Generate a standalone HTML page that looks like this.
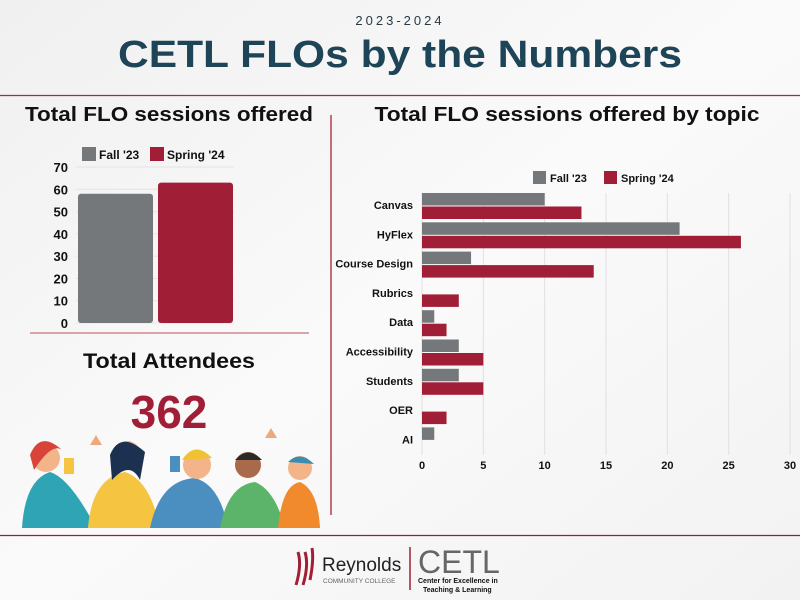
<!DOCTYPE html>
<html><head><meta charset="utf-8">
<style>
body{margin:0;width:800px;height:600px;overflow:hidden;background:#f4f4f4;font-family:"Liberation Sans",sans-serif;}
svg{display:block}
</style></head>
<body>
<svg width="800" height="600" viewBox="0 0 800 600">
<defs><linearGradient id="bg" x1="0" y1="0" x2="1" y2="1"><stop offset="0" stop-color="#f0f0f0"/><stop offset="0.5" stop-color="#fafafa"/><stop offset="1" stop-color="#f2f2f2"/></linearGradient></defs>
<rect width="800" height="600" fill="url(#bg)"/>
<text x="400" y="25" text-anchor="middle" font-size="13" letter-spacing="3" fill="#2a3a44">2023-2024</text>
<text x="400" y="67" text-anchor="middle" font-size="38" font-weight="bold" fill="#1e4457" textLength="564" lengthAdjust="spacingAndGlyphs">CETL FLOs by the Numbers</text>
<line x1="0" y1="95.5" x2="800" y2="95.5" stroke="#9a3040" stroke-width="1.2"/>
<text x="169" y="121" text-anchor="middle" font-size="20" font-weight="bold" fill="#111" textLength="288" lengthAdjust="spacingAndGlyphs">Total FLO sessions offered</text>
<text x="567" y="121" text-anchor="middle" font-size="20" font-weight="bold" fill="#111" textLength="385" lengthAdjust="spacingAndGlyphs">Total FLO sessions offered by topic</text>
<line x1="331" y1="115" x2="331" y2="515" stroke="#b04050" stroke-width="1.5"/>
<line x1="30" y1="333" x2="309" y2="333" stroke="#d08890" stroke-width="1.5"/>
<g id="left"></g>
<g id="right"></g>
<text x="169" y="368" text-anchor="middle" font-size="21" font-weight="bold" fill="#111" textLength="172" lengthAdjust="spacingAndGlyphs">Total Attendees</text>
<text x="169" y="428" text-anchor="middle" font-size="46" font-weight="bold" fill="#a11f36">362</text>
<g>
<path d="M22 528 Q25 480 50 472 Q70 478 96 528Z" fill="#2fa4b4"/>
<circle cx="46" cy="458" r="14" fill="#f3b48a"/><path d="M30 455 Q40 430 62 450 Q52 442 34 470Z" fill="#d8433a"/>
<path d="M88 528 Q92 478 125 472 Q150 480 160 528Z" fill="#f5c542"/>
<circle cx="127" cy="455" r="14" fill="#f0a77e"/><path d="M110 455 Q120 430 145 452 L140 480 Q130 460 112 480Z" fill="#1c3150"/>
<path d="M150 528 Q160 480 195 478 Q220 485 228 528Z" fill="#4a8fc0"/>
<circle cx="197" cy="465" r="14" fill="#f3b48a"/><path d="M182 460 Q195 440 212 458 Z" fill="#f0c232"/>
<path d="M220 528 Q228 485 255 482 Q275 490 285 528Z" fill="#5cb46a"/>
<circle cx="248" cy="465" r="13" fill="#a86a4a"/><path d="M235 460 Q248 445 262 460Z" fill="#2a2a2a"/>
<path d="M278 528 Q282 485 300 482 Q318 490 320 528Z" fill="#f08a2c"/>
<circle cx="300" cy="468" r="12" fill="#f3b48a"/><path d="M288 462 Q300 450 314 464Z" fill="#3a8cb0"/>
<rect x="64" y="458" width="10" height="16" fill="#f5c542"/><rect x="170" y="456" width="10" height="16" fill="#4a8fc0"/>
<path d="M90 445 l6 -10 l6 10Z" fill="#f0a77e"/><path d="M265 438 l6 -10 l6 10Z" fill="#f0a77e"/>
</g>
<line x1="0" y1="535.5" x2="800" y2="535.5" stroke="#8a2535" stroke-width="1.2"/>
<g>
<path d="M296 585 Q302 565 298 552 M303 585 Q309 565 305 552 M310 580 Q314 560 312 548" stroke="#a11f36" stroke-width="3" fill="none"/>
<text x="322" y="571" font-size="19" fill="#222">Reynolds</text>
<text x="323" y="583" font-size="6.5" fill="#666">COMMUNITY COLLEGE</text>
<line x1="410" y1="547" x2="410" y2="590" stroke="#a11f36" stroke-width="1.5"/>
<text x="418" y="573" font-size="32" fill="#666">CETL</text>
<text x="418" y="583" font-size="7" font-weight="bold" fill="#111">Center for Excellence in</text>
<text x="423" y="592" font-size="7" font-weight="bold" fill="#111">Teaching &amp; Learning</text>
</g>
</svg>
<script>
const NS="http://www.w3.org/2000/svg";
const totalSeries=["Fall '23","Spring '24"];
const totalValues=[58,63];
const totalTicks=[0,10,20,30,40,50,60,70];
const topicCats=["Canvas","HyFlex","Course Design","Rubrics","Data","Accessibility","Students","OER","AI"];
const fallValues=[10,21,4,0,1,3,3,0,1];
const springValues=[13,26,14,3,2,5,5,2,0];
const topicTicks=[0,5,10,15,20,25,30];
const colors=["#75787b","#a11f36"];
function mk(p,t,a,txt){const e=document.createElementNS(NS,t);for(const k in a)e.setAttribute(k,a[k]);if(txt!==undefined)e.textContent=txt;p.appendChild(e);return e;}
const L=document.getElementById('left');
const ly=v=>323-v*(156/70);
totalTicks.forEach(t=>{
 const g=mk(L,'line',{x1:76,x2:234,y1:ly(t),y2:ly(t),stroke:'#e4e4e4'});
 
 
 const tx=mk(L,'text',{x:68,y:ly(t)+5,'text-anchor':'end','font-size':13,'font-weight':'bold',fill:'#111'},t);
 
 
});
totalValues.forEach((v,i)=>{
 const x=78+i*80;
 const r=mk(L,'rect',{x:x,y:ly(v),width:75,height:ly(0)-ly(v),rx:3,fill:colors[i]});
 
 
});
totalSeries.forEach((s,i)=>{
 const x=[82,150][i];
 const r=mk(L,'rect',{x:x,y:147,width:14,height:14,fill:colors[i]});
 
 
 const t=mk(L,'text',{x:x+17,y:159,'font-size':12,'font-weight':'bold',fill:'#111'},s);
 
 
});
const R=document.getElementById('right');
const rx=v=>422+v*(368/30);
const pitch=29.3, top0=193, bh=12.5;
topicTicks.forEach(t=>{
 const g=mk(R,'line',{x1:rx(t),x2:rx(t),y1:193,y2:455,stroke:'#e0e0e0'});
 
 
 const tx=mk(R,'text',{x:rx(t),y:469,'text-anchor':'middle','font-size':11,'font-weight':'bold',fill:'#111'},t);
 
 
});
topicCats.forEach((c,i)=>{
 const y=top0+i*pitch;
 const t=mk(R,'text',{x:413,y:y+16,'text-anchor':'end','font-size':11,'font-weight':'bold',fill:'#111'},c);
 
 
 if(fallValues[i]>0){const b=mk(R,'rect',{x:rx(0),y:y,width:rx(fallValues[i])-rx(0),height:bh,fill:colors[0]});
 
 }
 if(springValues[i]>0){const b=mk(R,'rect',{x:rx(0),y:y+bh+1,width:rx(springValues[i])-rx(0),height:bh,fill:colors[1]});
 
 }
});
totalSeries.forEach((s,i)=>{
 const x=[533,604][i];
 const r=mk(R,'rect',{x:x,y:171,width:13,height:13,fill:colors[i]});
 
 
 const t=mk(R,'text',{x:x+17,y:182,'font-size':11,'font-weight':'bold',fill:'#111'},s);
 
 
});
</script>
</body></html>
